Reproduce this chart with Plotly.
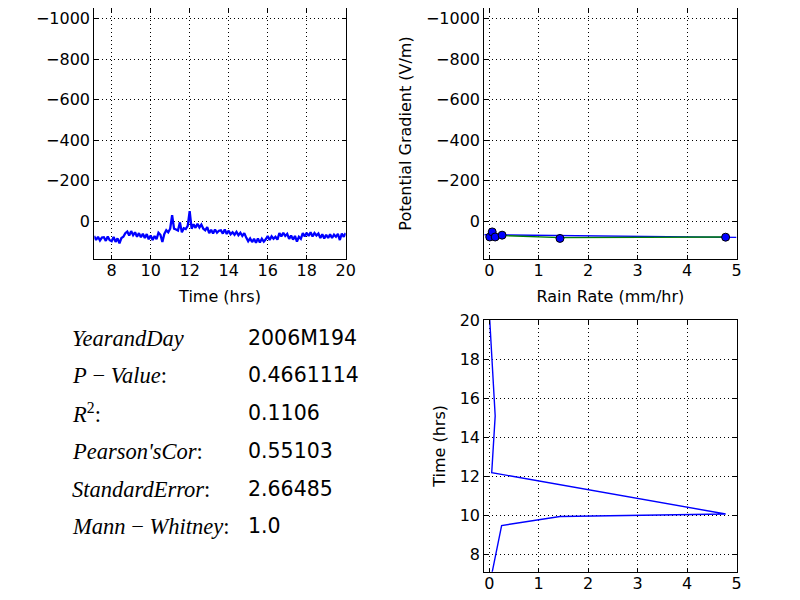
import plotly.graph_objects as go

# ---- data ----
pg_values = [72, 92, 76, 94, 80,
             78, 96, 75, 93, 98, 77, 101, 84,
             108, 82, 76, 58,
             50, 70, 48, 68, 54,
             76, 58, 78, 61, 82, 63,
             88, 70, 92, 72, 88,
             56, 66, 102,
             62, 44, 54, 36,
             -30, 36, 40, 45, 5, 54, 34, 38, 22, -50, 36,
             14, 32, 12, 30, 16, 36,
             44, 28,
             58, 42, 60, 40, 56, 46,
             44, 60, 40, 62, 46, 64,
             54, 66, 52, 68, 56, 72, 58, 80,
             98, 84, 102, 86, 106, 84, 104, 86, 100,
             88, 72, 92, 74, 86, 76, 90,
             58, 74, 56, 72, 62,
             86, 70, 90, 72, 100, 76, 86,
             58, 74, 56, 72, 54, 74, 58, 70, 60,
             82, 64, 84, 66, 82, 64, 82, 66,
             76, 62, 92, 60, 76, 58]
time_start = 7.1
time_step = 0.1
pg_times = [round(time_start + time_step * i, 2) for i in range(len(pg_values))]

scatter_rain = [0.01, 0.06, 0.12, 0.26, 1.43, 4.78]
scatter_pg = [77, 52, 77, 68, 84, 78]

fit_rain = [-0.1, 5.0]
fit_pg = [66, 79]

smooth_rain = [0.0, 1.43, 4.78]
smooth_pg = [68, 80, 77]

rain_times = [7.0, 9.5, 9.96, 10.09, 12.2, 15.1, 20.0]
rain_rates = [0.05, 0.25, 1.43, 4.78, 0.05, 0.12, 0.01]

stat_labels = ["<i>YearandDay</i>", "<i>P</i> − <i>Value</i>:", "<i>R</i><sup>2</sup>:",
               "<i>Pearson'sCor</i>:", "<i>StandardError</i>:", "<i>Mann</i> − <i>Whitney</i>:"]
stat_values = ["2006M194", "0.4661114", "0.1106", "0.55103", "2.66485", "1.0"]

pg_ticks = [-1000, -800, -600, -400, -200, 0]
pg_ticktext = ["−1000", "−800", "−600", "−400", "−200", "0"]

# ---- geometry (page has an 8px body margin) ----
W, H, OFF = 792, 584, 8

def px_x(sx):
    return (sx - OFF) / W

def px_y(sy):
    return min(1.0, 1 - (sy - OFF) / H)

# ---- figure ----
fig = go.Figure()
fig.add_trace(go.Scatter(x=pg_times, y=pg_values, mode="lines",
                         line=dict(color="#0000ff", width=2.3), xaxis="x", yaxis="y"))
fig.add_trace(go.Scatter(x=fit_rain, y=fit_pg, mode="lines",
                         line=dict(color="#0000ff", width=1.4), xaxis="x2", yaxis="y2"))
fig.add_trace(go.Scatter(x=smooth_rain, y=smooth_pg, mode="lines",
                         line=dict(color="#008000", width=1.4), xaxis="x2", yaxis="y2"))
fig.add_trace(go.Scatter(x=scatter_rain, y=scatter_pg, mode="markers",
                         marker=dict(color="#0000ff", size=8, line=dict(color="black", width=1)),
                         xaxis="x2", yaxis="y2"))
fig.add_trace(go.Scatter(x=rain_rates, y=rain_times, mode="lines",
                         line=dict(color="#0000ff", width=1.4), xaxis="x3", yaxis="y3"))

font_main = dict(family="DejaVu Sans", size=16, color="black")

def ax(domain, anchor, rng, **kw):
    d = dict(domain=domain, anchor=anchor, range=rng, showline=True, linecolor="black",
             linewidth=1.2, mirror="ticks", ticks="inside", ticklen=4, tickcolor="black",
             showgrid=True, gridcolor="black", griddash="1px,3px", gridwidth=0.8,
             zeroline=False, tickfont=font_main, automargin=False)
    d.update(kw)
    return d

xl = [px_x(94.3), px_x(345.7)]
xr = [px_x(484.3), px_x(736.5)]
yt = [px_y(258.7), 0.9995]
yb = [px_y(571.7), px_y(320.0)]

fig.update_layout(
    width=W, height=H, margin=dict(l=0, r=0, t=0, b=0, pad=0, autoexpand=False),
    paper_bgcolor="white", plot_bgcolor="white", showlegend=False,
    font=font_main,
    xaxis=ax(xl, "y", [7.11, 20], tickvals=[8, 10, 12, 14, 16, 18, 20], ticklabelstandoff=-3,
             title=dict(text="Time (hrs)", font=font_main, standoff=11)),
    yaxis=ax(yt, "x", [184, -1050], tickvals=pg_ticks, ticktext=pg_ticktext),
    xaxis2=ax(xr, "y2", [-0.1, 5.0], tickvals=[0, 1, 2, 3, 4, 5], ticklabelstandoff=-3,
              title=dict(text="Rain Rate (mm/hr)", font=font_main, standoff=11)),
    yaxis2=ax(yt, "x2", [184, -1050], tickvals=pg_ticks, ticktext=pg_ticktext,
              title=dict(text="Potential Gradient (V/m)", font=font_main, standoff=10)),
    xaxis3=ax(xr, "y3", [-0.1, 5.0], tickvals=[0, 1, 2, 3, 4, 5], ticklabelstandoff=-3),
    yaxis3=ax(yb, "x3", [7.14, 20.0], tickvals=[8, 10, 12, 14, 16, 18, 20],
              title=dict(text="Time (hrs)", font=font_main, standoff=10)),
)

row_y = [338, 375, 413, 451, 489, 526]
for lab, val, yy in zip(stat_labels, stat_values, row_y):
    fig.add_annotation(text=lab, x=px_x(70), y=px_y(yy), xref="paper", yref="paper",
                       xanchor="left", yanchor="middle", showarrow=False,
                       font=dict(family="Liberation Serif", size=22.5, color="black"))
    fig.add_annotation(text=val, x=px_x(246), y=px_y(yy), xref="paper", yref="paper",
                       xanchor="left", yanchor="middle", showarrow=False,
                       font=dict(family="DejaVu Sans", size=20.5, color="black"))

fig.write_html("out.html")
